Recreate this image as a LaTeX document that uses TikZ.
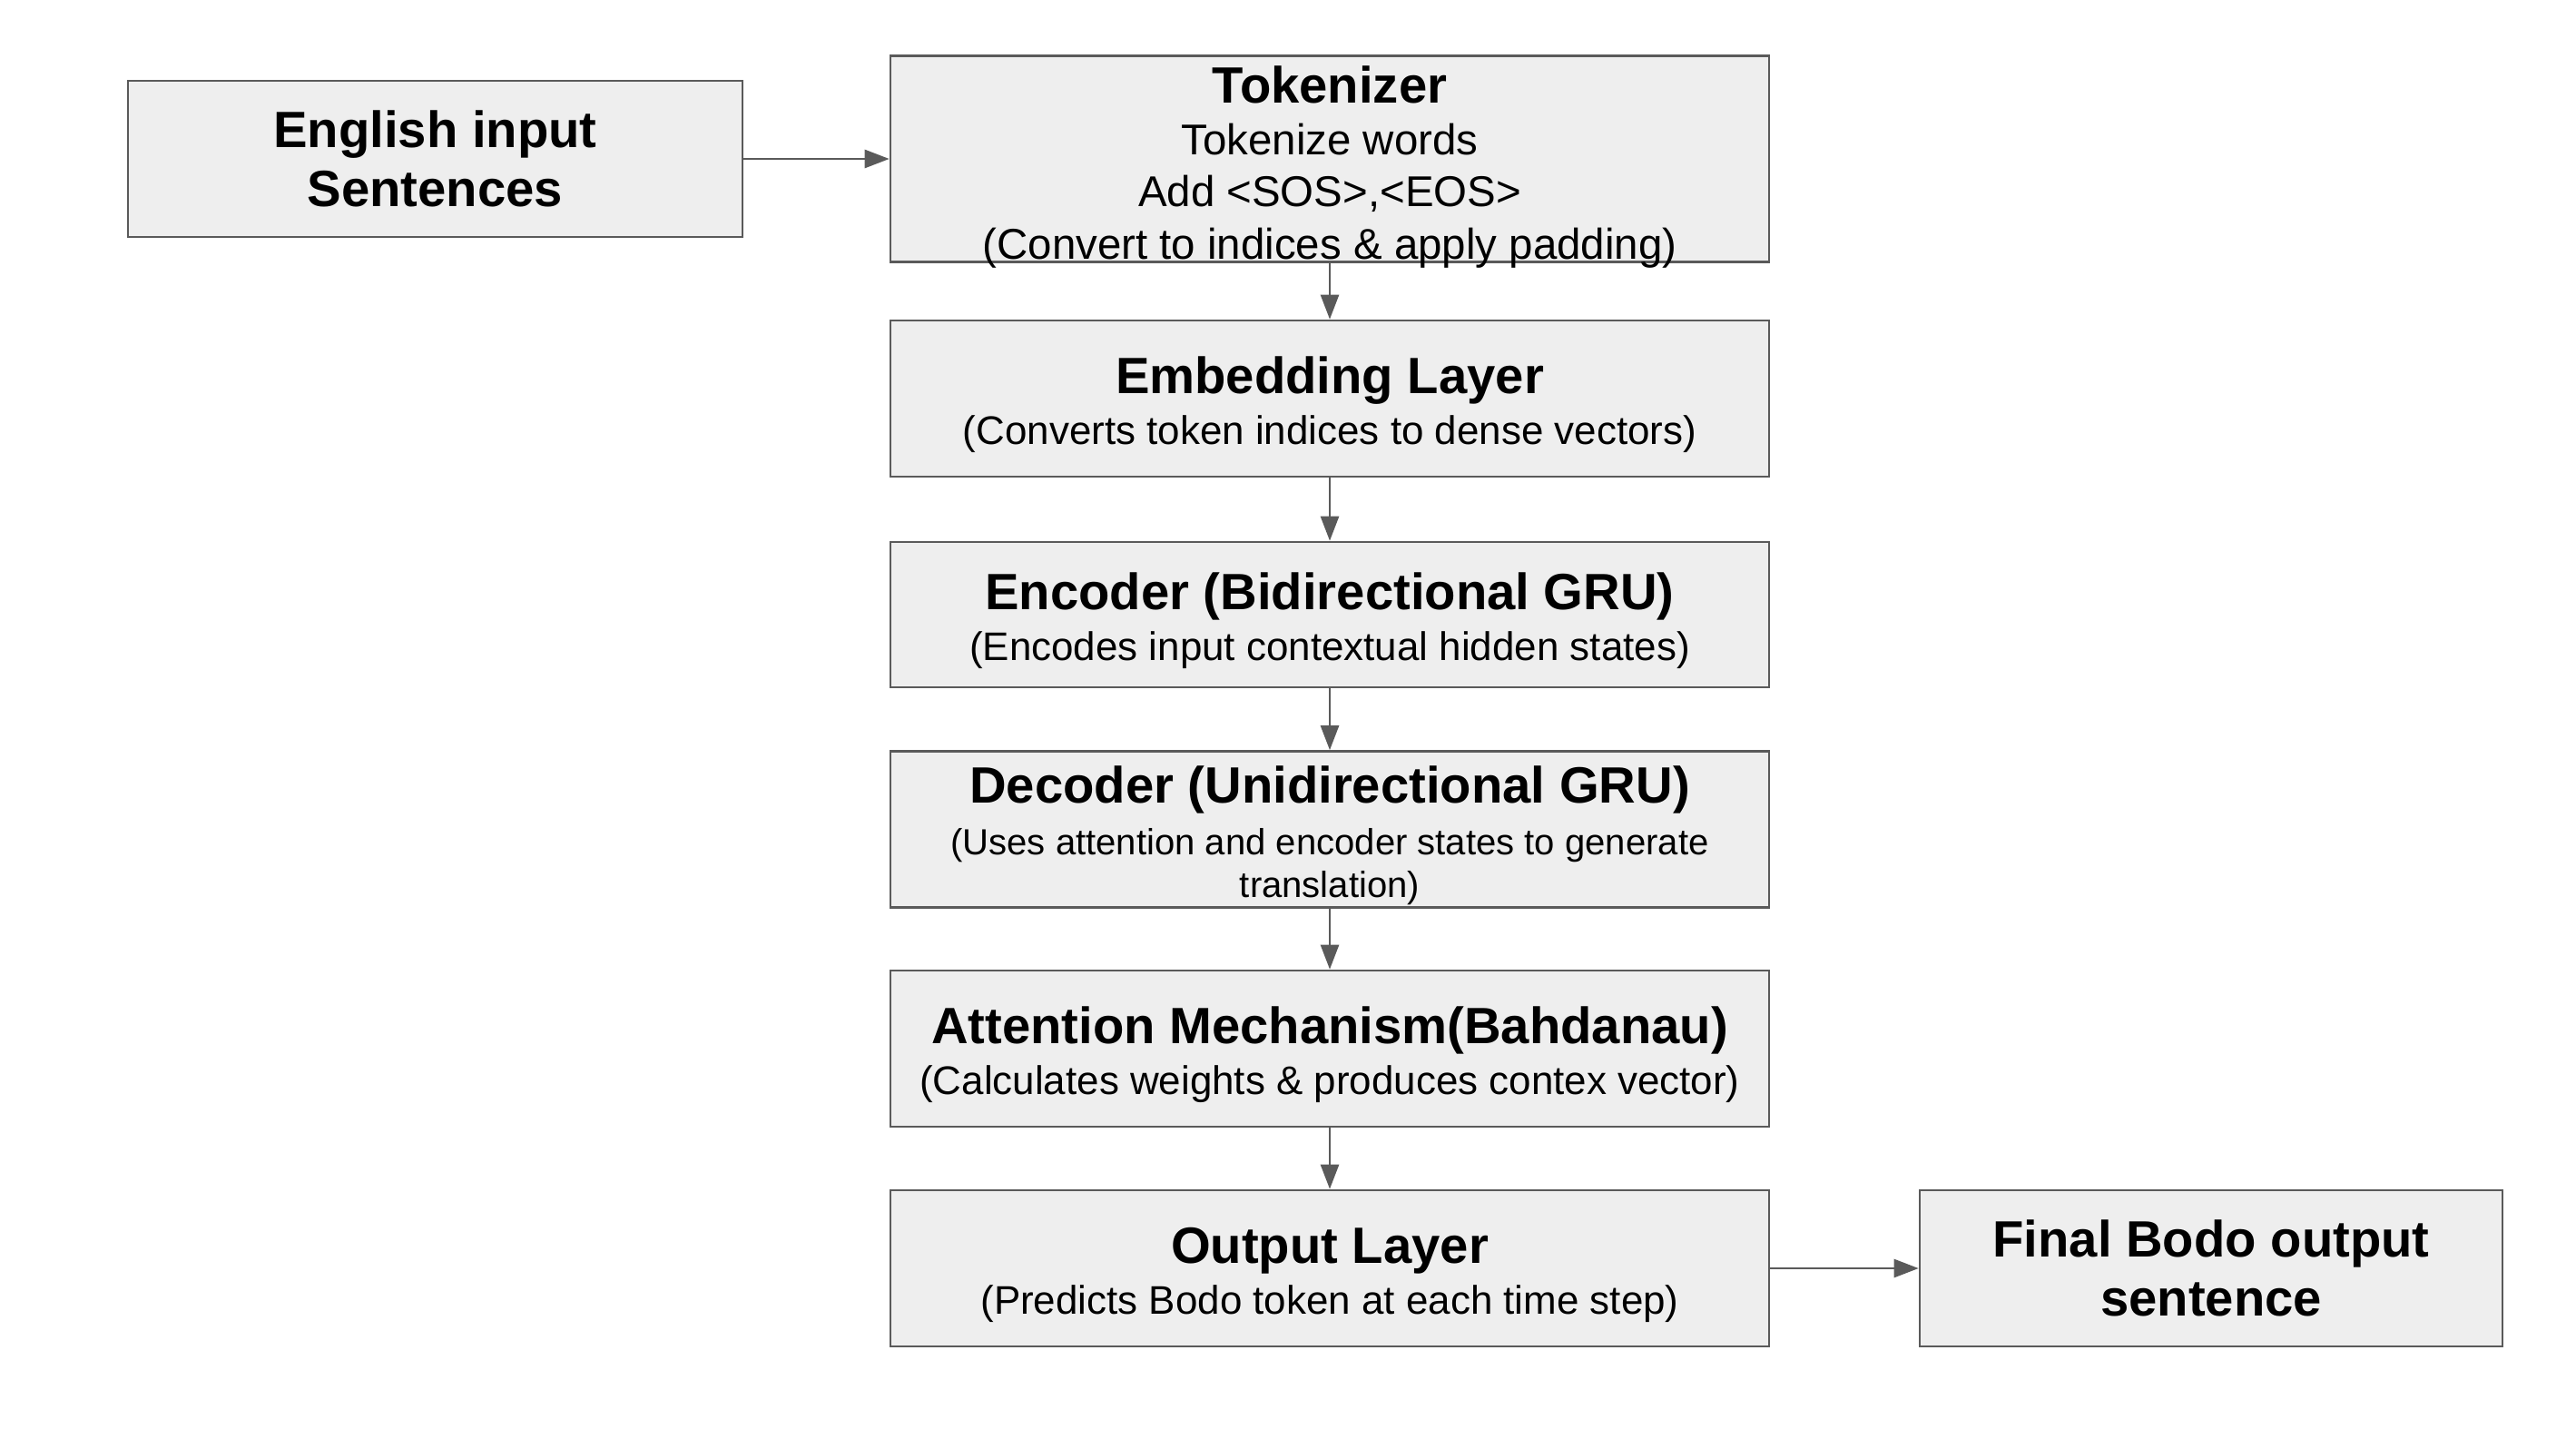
\documentclass[tikz,border=0pt]{standalone}
\usepackage{fontspec}
\setmainfont{Liberation Sans}
\usetikzlibrary{arrows.meta}
\definecolor{boxfill}{HTML}{EEEEEE}
\definecolor{edgegray}{HTML}{5A5A5A}
\newcommand{\headline}[1]{{\fontsize{16}{19}\selectfont\bfseries\rule{0pt}{15.5pt}#1}}
\begin{document}
\begin{tikzpicture}[
    blk/.style={draw=edgegray, line width=0.75pt, fill=boxfill, inner sep=0pt,
      minimum width=9.68cm, minimum height=1.72cm, align=center,
      font=\fontsize{12.5}{15}\selectfont},
    endblk/.style={blk, font=\fontsize{16}{18.5}\selectfont\bfseries},
    flow/.style={draw=edgegray, line width=0.75pt, -{Triangle[length=2.7mm,width=2mm]}}
  ]
  \useasboundingbox (0,0) rectangle (28.38,-15.84);

  % input and tokenizer
  \node[endblk, minimum width=6.77cm] (eng) at (4.795,-1.75)
    {English input\\ Sentences};
  \node[blk, minimum height=2.27cm] (tok) at (14.65,-1.75) {};
  \node[align=center, font=\fontsize{13.5}{16.3}\selectfont] (toktxt) at ([yshift=-0.02cm]tok.center)
    {\headline{Tokenizer}\\ Tokenize words\\ Add <SOS>,<EOS>\\ (Convert to indices \& apply padding)};

  % model stack
  \node[blk] (emb) at (14.65,-4.39)
    {\headline{Embedding Layer}\\[1pt] (Converts token indices to dense vectors)};
  \node[blk, minimum height=1.60cm] (enc) at (14.65,-6.77)
    {\headline{Encoder (Bidirectional GRU)}\\[1pt] (Encodes input contextual hidden states)};
  \node[blk, font=\fontsize{11.4}{13.4}\selectfont] (dec) at (14.65,-9.135)
    {\headline{Decoder (Unidirectional GRU)}\\[3pt] (Uses attention and encoder states to generate\\ translation)};
  \node[blk] (att) at (14.65,-11.55)
    {\headline{Attention Mechanism(Bahdanau)}\\[1pt] (Calculates weights \& produces contex vector)};
  \node[blk] (out) at (14.65,-13.97)
    {\headline{Output Layer}\\[1pt] (Predicts Bodo token at each time step)};
  \node[endblk, minimum width=6.42cm] (fin) at (24.36,-13.97)
    {Final Bodo output\\ sentence};

  % connectors
  \draw[flow] (eng) -- (tok);
  \draw[flow] (tok) -- (emb);
  \draw[flow] (emb) -- (enc);
  \draw[flow] (enc) -- (dec);
  \draw[flow] (dec) -- (att);
  \draw[flow] (att) -- (out);
  \draw[flow] (out) -- (fin);
\end{tikzpicture}
\end{document}
